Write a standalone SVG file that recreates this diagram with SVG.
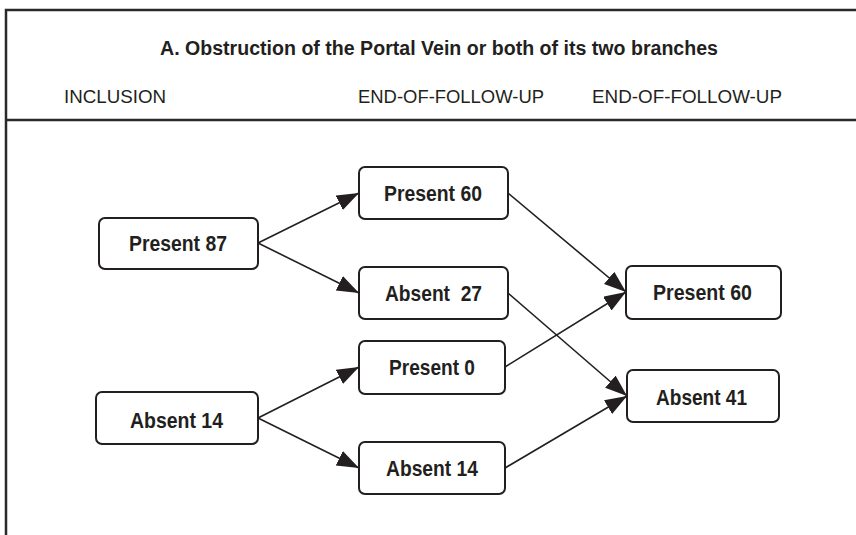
<svg xmlns="http://www.w3.org/2000/svg" width="856" height="535" viewBox="0 0 856 535">
  <style>
    .frame { fill: none; stroke: #2a2a2a; stroke-width: 2.5; }
    .box { fill: #ffffff; stroke: #231f20; stroke-width: 2; }
    .lbl { font-family: "Liberation Sans", Arial, sans-serif; font-weight: bold; font-size: 22px; fill: #231f20; text-anchor: middle; white-space: pre; }
    .title { font-family: "Liberation Sans", Arial, sans-serif; font-weight: bold; font-size: 20px; fill: #231f20; text-anchor: middle; }
    .col { font-family: "Liberation Sans", Arial, sans-serif; font-size: 18px; fill: #231f20; text-anchor: middle; }
    .edge { fill: none; stroke: #231f20; stroke-width: 1.6; }
  </style>
  <defs>
    <marker id="arrow" markerUnits="userSpaceOnUse" markerWidth="24" markerHeight="18" refX="22" refY="8" orient="auto">
      <path d="M0,0 L22,8 L0,16 Z" fill="#231f20"/>
    </marker>
  </defs>

  <rect width="856" height="535" fill="#ffffff"/>

  <!-- frame and header -->
  <g id="frame">
    <path class="frame" d="M6,535 V10 H856"/>
    <path class="frame" d="M6,120 H856"/>
    <text class="title" x="439" y="55" textLength="558" lengthAdjust="spacingAndGlyphs">A. Obstruction of the Portal Vein or both of its two branches</text>
    <text class="col" x="115" y="103" textLength="102" lengthAdjust="spacingAndGlyphs">INCLUSION</text>
    <text class="col" x="451" y="103" textLength="186" lengthAdjust="spacingAndGlyphs">END-OF-FOLLOW-UP</text>
    <text class="col" x="687" y="103" textLength="190" lengthAdjust="spacingAndGlyphs">END-OF-FOLLOW-UP</text>
  </g>

  <!-- connectors -->
  <g id="connectors">
    <line class="edge" x1="258" y1="243" x2="359" y2="193" marker-end="url(#arrow)"/>
    <line class="edge" x1="258" y1="243" x2="359" y2="293" marker-end="url(#arrow)"/>
    <line class="edge" x1="258" y1="418" x2="359" y2="367" marker-end="url(#arrow)"/>
    <line class="edge" x1="258" y1="418" x2="359" y2="468" marker-end="url(#arrow)"/>
    <line class="edge" x1="508" y1="193" x2="626" y2="292" marker-end="url(#arrow)"/>
    <line class="edge" x1="508" y1="293" x2="627" y2="396" marker-end="url(#arrow)"/>
    <line class="edge" x1="505" y1="367" x2="626" y2="292" marker-end="url(#arrow)"/>
    <line class="edge" x1="505" y1="468" x2="627" y2="396" marker-end="url(#arrow)"/>
  </g>

  <!-- inclusion -->
  <g id="incl-present">
    <rect class="box" x="99" y="218" width="159" height="51" rx="6"/>
    <text class="lbl" x="178" y="251" textLength="98" lengthAdjust="spacingAndGlyphs">Present 87</text>
  </g>
  <g id="incl-absent">
    <rect class="box" x="96" y="392" width="162" height="52" rx="6"/>
    <text class="lbl" x="176.5" y="428" textLength="93" lengthAdjust="spacingAndGlyphs">Absent 14</text>
  </g>

  <!-- first follow-up -->
  <g id="fu1-present-60">
    <rect class="box" x="359" y="167" width="149" height="52" rx="6"/>
    <text class="lbl" x="433" y="201" textLength="98" lengthAdjust="spacingAndGlyphs">Present 60</text>
  </g>
  <g id="fu1-absent-27">
    <rect class="box" x="359" y="267" width="149" height="52" rx="6"/>
    <text class="lbl" x="433.5" y="301" textLength="97" lengthAdjust="spacingAndGlyphs">Absent  27</text>
  </g>
  <g id="fu1-present-0">
    <rect class="box" x="359" y="341" width="146" height="53" rx="6"/>
    <text class="lbl" x="432" y="375" textLength="86" lengthAdjust="spacingAndGlyphs">Present 0</text>
  </g>
  <g id="fu1-absent-14">
    <rect class="box" x="359" y="442" width="146" height="52" rx="6"/>
    <text class="lbl" x="432" y="476" textLength="92" lengthAdjust="spacingAndGlyphs">Absent 14</text>
  </g>

  <!-- second follow-up -->
  <g id="fu2-present-60">
    <rect class="box" x="626" y="266" width="155" height="53" rx="6"/>
    <text class="lbl" x="702.5" y="300" textLength="99" lengthAdjust="spacingAndGlyphs">Present 60</text>
  </g>
  <g id="fu2-absent-41">
    <rect class="box" x="627" y="370" width="152" height="52" rx="6"/>
    <text class="lbl" x="701.5" y="405" textLength="91" lengthAdjust="spacingAndGlyphs">Absent 41</text>
  </g>
</svg>
